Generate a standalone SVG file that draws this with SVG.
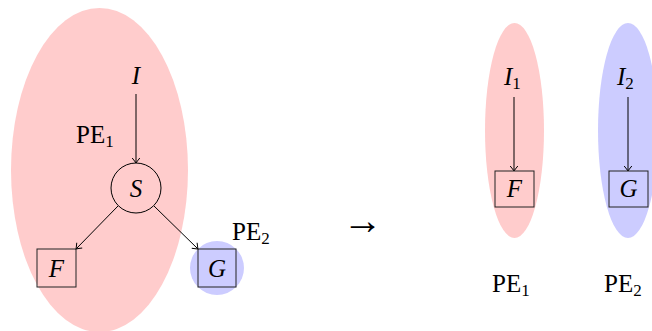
<svg xmlns="http://www.w3.org/2000/svg" width="652" height="331" viewBox="0 0 652 331">
<style>
text{font-family:"Liberation Serif","DejaVu Serif",serif;font-size:25px;fill:#000}
.m{font-style:italic}
.sub{font-size:17px;font-style:normal}
.c{text-anchor:middle}
.e{stroke:#000;stroke-width:1;fill:none}
.box{stroke:#222;stroke-width:1;fill:none}
.arr{font-size:40px}
</style>
<defs>
<marker id="ah" markerUnits="userSpaceOnUse" markerWidth="12" markerHeight="12" viewBox="-6 -6 12 12" refX="0" refY="0" orient="auto">
<path d="M-5,-3.8 Q-1.5,-1 0,0 Q-1.5,1 -5,3.8" fill="none" stroke="#000" stroke-width="1"/>
</marker>
</defs>
<g id="regions">
<ellipse cx="99.5" cy="170" rx="88.5" ry="162" fill="#ffcccc"/>
<circle cx="217" cy="268" r="27" fill="#ccccff"/>
<ellipse cx="514.5" cy="130.5" rx="29.5" ry="107.5" fill="#ffcccc"/>
<ellipse cx="628" cy="130.5" rx="30" ry="107.5" fill="#ccccff"/>
</g>
<g id="connectors">
<line class="e" x1="136" y1="94" x2="136" y2="163" marker-end="url(#ah)"/>
<line class="e" x1="118" y1="206" x2="76" y2="249" marker-end="url(#ah)"/>
<line class="e" x1="154" y1="206" x2="198" y2="249" marker-end="url(#ah)"/>
<line class="e" x1="514" y1="97" x2="514" y2="171" marker-end="url(#ah)"/>
<line class="e" x1="628" y1="97" x2="628" y2="171" marker-end="url(#ah)"/>
</g>
<g id="I"><text class="m c" x="136" y="84">I</text></g>
<g id="PE1-label"><text x="76" y="143">PE<tspan class="sub" dy="4">1</tspan></text></g>
<g id="S"><circle cx="136" cy="188" r="25" fill="none" stroke="#000" stroke-width="1"/><text class="m c" x="136" y="197">S</text></g>
<g id="F"><rect class="box" x="37" y="249" width="39" height="38"/><text class="m c" x="56.5" y="277">F</text></g>
<g id="G"><rect class="box" x="198" y="249" width="38" height="38"/><text class="m c" x="217" y="277">G</text></g>
<g id="PE2-label"><text x="232" y="240">PE<tspan class="sub" dy="4">2</tspan></text></g>
<g id="transform-arrow"><text class="arr c" x="362.5" y="234">→</text></g>
<g id="I1"><text x="504" y="85"><tspan class="m">I</tspan><tspan class="sub" dy="4">1</tspan></text></g>
<g id="F1"><rect class="box" x="495" y="171" width="39" height="36"/><text class="m c" x="514.5" y="197">F</text></g>
<g id="I2"><text x="617" y="85"><tspan class="m">I</tspan><tspan class="sub" dy="4">2</tspan></text></g>
<g id="G2"><rect class="box" x="609" y="171" width="39" height="36"/><text class="m c" x="628.5" y="197">G</text></g>
<g id="PE1-bottom"><text x="492" y="292">PE<tspan class="sub" dy="4">1</tspan></text></g>
<g id="PE2-bottom"><text x="604" y="292">PE<tspan class="sub" dy="4">2</tspan></text></g>
</svg>
